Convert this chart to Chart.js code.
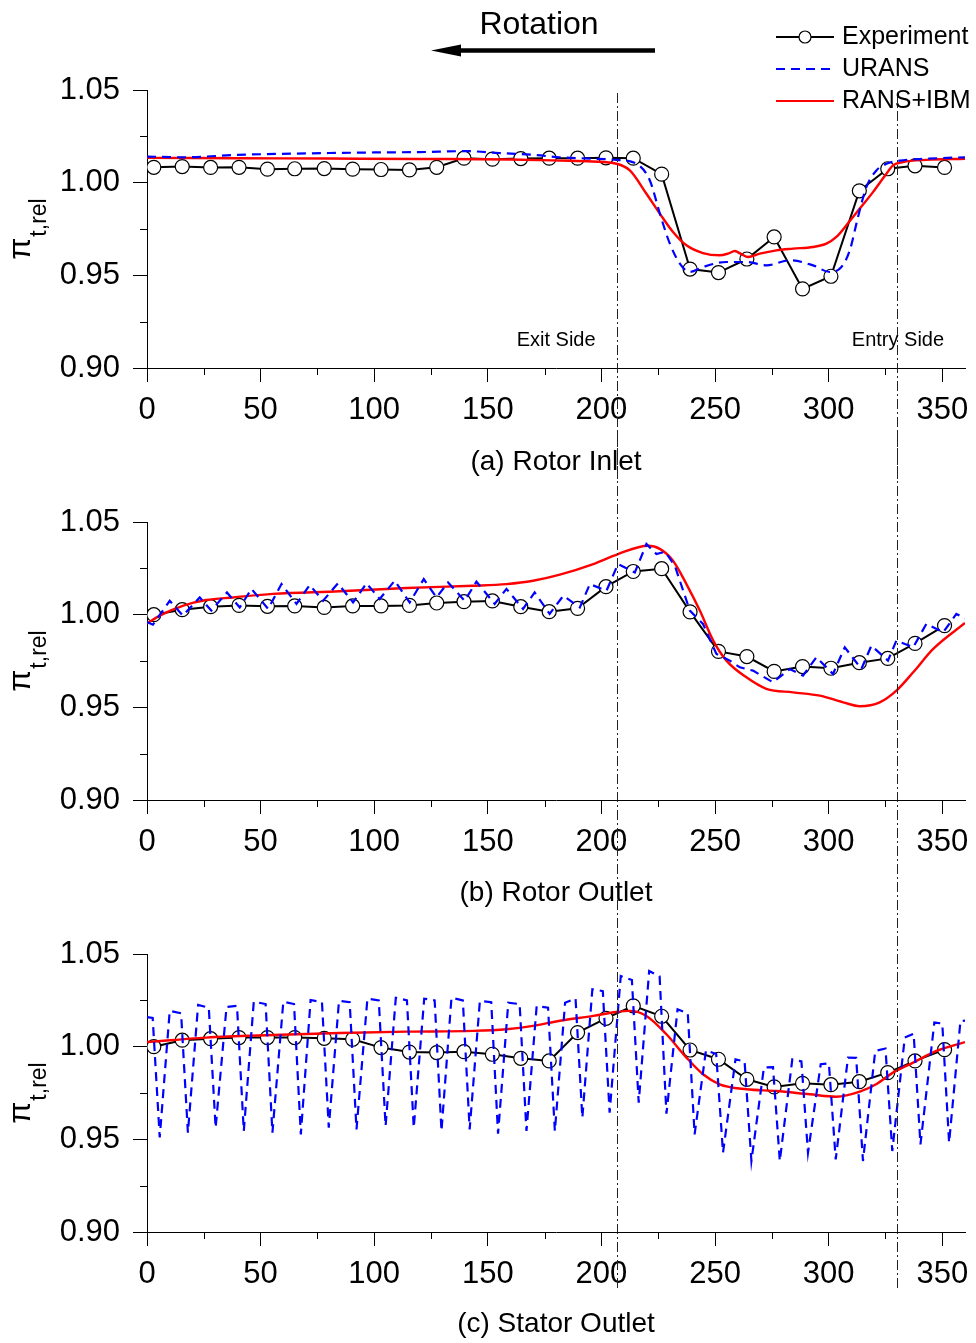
<!DOCTYPE html>
<html><head><meta charset="utf-8">
<script src="https://cdn.jsdelivr.net/npm/chart.js@4.4.1/dist/chart.umd.min.js"></script>
<style>
html,body{margin:0;padding:0;background:#fff;}
#wrap{position:relative;width:976px;height:1343px;overflow:hidden;background:#fff;}
canvas{position:absolute;left:0;}
</style></head><body>
<div id="wrap">
<canvas id="ca" width="976" height="479" style="top:0px"></canvas>
<canvas id="cb" width="976" height="478" style="top:432px"></canvas>
<canvas id="cc" width="976" height="477" style="top:864px"></canvas>
</div>
<script>
// ---------- data ----------
const xTicks = [0,50,100,150,200,250,300,350];
const xMinorTicks = [25,75,125,175,225,275,325];
const yTicks = [0.90,0.95,1.00,1.05];
const yMinorTicks = [0.925,0.975,1.025];
const markerAngles = [207, 330];
const panelTitles = ['(a) Rotor Inlet','(b) Rotor Outlet','(c) Stator Outlet'];
const seriesNames = ['Experiment','URANS','RANS+IBM'];
const sideLabels = ['Exit Side','Entry Side'];
const sideLabelX = [162.7, 310.2];
const sideLabelY = 0.915;

const expAngle = [3,15.5,28,40.5,53,65,78,90.5,103,115.5,127.5,139.5,152,164.5,177,189.5,202,214,226.5,239,251.5,264,276,288.5,301,313.5,326,338,351];

// (a) Rotor Inlet
const expA = [1.0083,1.0087,1.0082,1.0083,1.0073,1.0075,1.0076,1.0073,1.0071,1.0069,1.0083,1.0132,1.0127,1.0130,1.0132,1.0132,1.0134,1.0132,1.0046,0.9534,0.9515,0.9588,0.9707,0.9427,0.9495,0.9956,1.0075,1.0091,1.0082];
const uransAx = [0,16,40,70,100,120,140.6,155,170,181.7,195,206.6,215.4,221.3,225.7,230.1,234.5,238.9,244.7,255,263.8,272.6,282.9,293.1,300.5,305.6,309.3,312.9,316.6,321,325.4,331.3,343,360];
const uransAy = [1.0141,1.0137,1.0150,1.0158,1.0163,1.0165,1.0170,1.0160,1.0150,1.0137,1.0130,1.0123,1.0102,1.0012,0.9833,0.9671,0.9563,0.9518,0.9545,0.9572,0.9572,0.9554,0.9581,0.9554,0.9518,0.9545,0.9635,0.9814,0.9976,1.0066,1.0102,1.0119,1.0129,1.0137];
const ransAx = [0,40,80,120,160,181.7,196,206.6,212.5,219.8,225.7,231.5,237.4,244.7,252,255.7,258.7,261.6,264.5,269.7,277,284.3,293.1,299,303.4,307.8,313.7,319.5,325.4,328.3,332.7,343,360];
const ransAy = [1.0134,1.0132,1.0130,1.0128,1.0125,1.0119,1.0114,1.0102,1.0066,0.9940,0.9833,0.9734,0.9662,0.9620,0.9608,0.9617,0.9631,0.9614,0.9599,0.9617,0.9635,0.9644,0.9653,0.9671,0.9707,0.9770,0.9860,0.9949,1.0048,1.0093,1.0111,1.0123,1.0129];

// (b) Rotor Outlet
const expB = [1.0000,1.0027,1.0043,1.0050,1.0045,1.0047,1.0039,1.0047,1.0047,1.0050,1.0063,1.0070,1.0074,1.0043,1.0016,1.0034,1.0151,1.0233,1.0248,1.0015,0.9802,0.9774,0.9694,0.9720,0.9711,0.9741,0.9764,0.9845,0.9941];
const uransBx = [0,2.6,10,15.8,23.2,28.3,35.2,40.8,46,53.3,59.2,65.8,71.6,77.5,84,90.7,96.6,102.4,109,115.6,121.8,127.4,132.5,139.8,145,153,158.2,165.5,170.6,177.2,183.2,190.5,194.9,202.2,207.3,214.7,219.8,224.2,228,232.3,238.9,244.7,250.6,256.5,260.9,266.7,275.5,282.9,288.7,294.6,301.9,307.1,314.4,318.8,326.1,329.8,337.2,343,350.4,356.2,360];
const uransBy = [0.9960,0.9946,1.0075,0.9995,1.0093,1.0022,1.0120,1.0039,1.0139,1.0031,1.0165,1.0058,1.0160,1.0075,1.0169,1.0066,1.0169,1.0085,1.0183,1.0066,1.0192,1.0093,1.0174,1.0075,1.0178,1.0058,1.0139,1.0031,1.0120,1.0004,1.0102,1.0039,1.0165,1.0129,1.0273,1.0228,1.0381,1.0327,1.0340,1.0264,1.0022,0.9950,0.9788,0.9752,0.9716,0.9698,0.9635,0.9707,0.9671,0.9770,0.9680,0.9824,0.9707,0.9833,0.9752,0.9860,0.9824,0.9950,0.9905,1.0004,0.9980];
const ransBx = [0,5.6,16,26,37.9,55.4,84.8,114.2,143.5,158.2,169.9,181.7,196.4,207.3,220.5,225.7,231.5,237.4,243.3,249.2,255,263.8,272.6,284.3,296.1,306.4,313.7,322.5,329.8,337.2,346,360];
const ransBy = [0.9953,0.9995,1.0049,1.0079,1.0093,1.0112,1.0126,1.0144,1.0156,1.0165,1.0183,1.0216,1.0273,1.0327,1.0372,1.0355,1.0291,1.0165,1.0022,0.9860,0.9752,0.9662,0.9600,0.9581,0.9563,0.9527,0.9506,0.9527,0.9590,0.9689,0.9815,0.9955];

// (c) Stator Outlet
const expC = [1.0000,1.0035,1.0043,1.0049,1.0049,1.0049,1.0045,1.0040,0.9995,0.9971,0.9968,0.9973,0.9959,0.9937,0.9923,1.0076,1.0153,1.0220,1.0164,0.9982,0.9932,0.9824,0.9783,0.9802,0.9795,0.9811,0.9860,0.9923,0.9984];
const uransCx = [0,2.5,5.6,10,15,18,22.5,27.2,30.2,35,39.6,42.6,47,52.2,55.2,60,64.7,67.7,72,77,80,84.5,89.2,92.2,97,102,105,109.5,114.4,117.4,122,126.6,129.6,134,139,142,146.5,151.5,154.5,159,164,167,171.5,176.5,179.5,184,188.6,191.6,196,200.6,203.6,208.5,213.4,216.4,221,225.6,228.6,233.5,238,241,246,250.5,253.5,259,263,266,271.5,275.5,278.5,284,288,290.9,296.5,300.1,303.1,308.5,312.1,315.1,320.5,325,328,333.5,337.4,340.4,346.5,350,353,358,360];
const uransCy = [1.0160,1.0155,0.9510,1.0193,1.0180,0.9536,1.0225,1.0210,0.9563,1.0214,1.0220,0.9545,1.0243,1.0230,0.9536,1.0243,1.0230,0.9527,1.0252,1.0240,0.9563,1.0247,1.0240,0.9554,1.0259,1.0250,0.9572,1.0264,1.0250,0.9563,1.0259,1.0250,0.9545,1.0264,1.0250,0.9554,1.0247,1.0240,0.9530,1.0237,1.0230,0.9545,1.0220,1.0210,0.9545,1.0237,1.0260,0.9617,1.0310,1.0300,0.9644,1.0381,1.0360,0.9698,1.0408,1.0380,0.9638,1.0202,1.0180,0.9527,0.9980,0.9960,0.9428,0.9932,0.9920,0.9383,0.9887,0.9890,0.9383,0.9932,0.9920,0.9428,0.9905,0.9910,0.9392,0.9941,0.9940,0.9383,0.9977,0.9990,0.9437,1.0049,1.0070,0.9473,1.0130,1.0125,0.9482,1.0139,1.0140];
const ransCx = [0,26.1,55.5,84.8,114.2,143.5,158.2,169.9,181.7,196.4,206.6,212.5,219.8,228.6,237.4,244.7,252,263.8,277,291.7,303.4,313.7,320.9,328.3,337.2,347.4,360];
const ransCy = [1.0025,1.0049,1.0063,1.0074,1.0081,1.0085,1.0094,1.0112,1.0140,1.0166,1.0187,1.0193,1.0166,1.0067,0.9941,0.9851,0.9797,0.9770,0.9761,0.9743,0.9730,0.9757,0.9797,0.9860,0.9914,0.9977,1.0025];

// ---------- rendering ----------
const FONT = "'Liberation Sans', Arial, Helvetica, sans-serif";
const pts = (xs, ys) => xs.map((x, i) => ({x: x, y: ys[i]}));

function decorPlugin(p) {
  return {
    id: 'decor' + p.idx,
    afterDraw(chart) {
      const ctx = chart.ctx, xs = chart.scales.x, ys = chart.scales.y, a = chart.chartArea;
      ctx.save();
      // minor ticks
      ctx.strokeStyle = '#000'; ctx.lineWidth = 1;
      ctx.beginPath();
      xMinorTicks.forEach(v => { const px = Math.round(xs.getPixelForValue(v)) + 0.5; ctx.moveTo(px, a.bottom); ctx.lineTo(px, a.bottom + 7); });
      yMinorTicks.forEach(v => { const py = Math.round(ys.getPixelForValue(v)) + 0.5; ctx.moveTo(a.left, py); ctx.lineTo(a.left - 7, py); });
      ctx.stroke();
      // dash-dot marker lines
      ctx.strokeStyle = '#222'; ctx.lineWidth = 1; ctx.setLineDash([10,3,2,3]);
      ctx.beginPath();
      markerAngles.forEach(v => { const px = Math.round(xs.getPixelForValue(v)) + 0.5; ctx.moveTo(px, p.lineTop); ctx.lineTo(px, p.lineBottom); });
      ctx.stroke();
      ctx.setLineDash([]);
      // y-axis title pi_{t,rel}
      const cy = (a.top + a.bottom) / 2;
      ctx.fillStyle = '#000';
      ctx.font = '32px ' + FONT;
      const wPi = ctx.measureText('\u03c0').width;
      ctx.font = '23px ' + FONT;
      const wSub = ctx.measureText('t,rel').width;
      const total = wPi + 1 + wSub;
      ctx.translate(30, cy + total / 2);
      ctx.rotate(-Math.PI / 2);
      ctx.textBaseline = 'alphabetic'; ctx.textAlign = 'left';
      ctx.font = '32px ' + FONT;
      ctx.fillText('\u03c0', 0, 0);
      ctx.font = '23px ' + FONT;
      ctx.fillText('t,rel', wPi + 1, 16);
      ctx.restore();

      if (p.idx === 0) {
        ctx.save();
        // side labels
        ctx.fillStyle = '#000'; ctx.font = '20px ' + FONT; ctx.textBaseline = 'middle'; ctx.textAlign = 'left';
        sideLabels.forEach((t, i) => ctx.fillText(t, xs.getPixelForValue(sideLabelX[i]), ys.getPixelForValue(sideLabelY)));
        // rotation label + arrow
        ctx.font = '32px ' + FONT; ctx.textAlign = 'center';
        ctx.fillText('Rotation', 539, 25);
        ctx.strokeStyle = '#000'; ctx.lineWidth = 4.5;
        ctx.beginPath(); ctx.moveTo(655, 50.5); ctx.lineTo(455, 50.5); ctx.stroke();
        ctx.beginPath(); ctx.moveTo(431, 50.5); ctx.lineTo(461, 44.5); ctx.lineTo(461, 56.5); ctx.closePath(); ctx.fill();
        // legend
        const rows = [37, 69, 101];
        ctx.lineWidth = 2;
        ctx.strokeStyle = '#000';
        ctx.beginPath(); ctx.moveTo(776, rows[0]); ctx.lineTo(834, rows[0]); ctx.stroke();
        ctx.fillStyle = '#fff'; ctx.lineWidth = 1.2;
        ctx.beginPath(); ctx.arc(805, rows[0], 6, 0, Math.PI * 2); ctx.fill(); ctx.stroke();
        ctx.strokeStyle = '#0000ff'; ctx.lineWidth = 2; ctx.setLineDash([9,6]);
        ctx.beginPath(); ctx.moveTo(776, rows[1]); ctx.lineTo(834, rows[1]); ctx.stroke();
        ctx.setLineDash([]);
        ctx.strokeStyle = '#ff0000';
        ctx.beginPath(); ctx.moveTo(776, rows[2]); ctx.lineTo(834, rows[2]); ctx.stroke();
        ctx.fillStyle = '#000'; ctx.font = '25px ' + FONT; ctx.textAlign = 'left'; ctx.textBaseline = 'middle';
        seriesNames.forEach((t, i) => ctx.fillText(t, 842, rows[i]));
        ctx.restore();
      }
    }
  };
}

function buildChart(p) {
  const H = p.height;
  return new Chart(document.getElementById(p.id), {
    type: 'line',
    data: { datasets: [
      { label: seriesNames[1], data: pts(p.bx, p.by), borderColor: '#0000ff', borderWidth: 2.2, borderDash: [9,6],
        pointRadius: 0, fill: false, tension: p.blueSmooth ? 0.4 : 0, cubicInterpolationMode: p.blueSmooth ? 'monotone' : 'default' },
      { label: seriesNames[2], data: pts(p.rx, p.ry), borderColor: '#ff0000', borderWidth: 2.4,
        pointRadius: 0, fill: false, tension: 0.4, cubicInterpolationMode: 'monotone' },
      { label: seriesNames[0], data: pts(expAngle, p.exp), borderColor: '#000', borderWidth: 2, tension: 0,
        pointRadius: 7, pointBackgroundColor: '#fff', pointBorderColor: '#000', pointBorderWidth: 1.2, fill: false }
    ]},
    options: {
      responsive: false, animation: false, events: [],
      layout: { padding: { top: 90, right: 11, bottom: 0, left: 0 } },
      plugins: { legend: { display: false }, tooltip: { enabled: false } },
      scales: {
        x: {
          type: 'linear', min: 0, max: 360,
          afterBuildTicks: s => { s.ticks = xTicks.map(v => ({ value: v })); },
          afterFit: s => { s.height = H - 368; s.paddingLeft = 0; s.paddingRight = 0; },
          ticks: { color: '#000', font: { family: FONT, size: 31 }, padding: 10, maxRotation: 0, autoSkip: false, callback: v => String(v) },
          grid: { drawOnChartArea: false, drawTicks: true, tickLength: 14, color: '#000', lineWidth: 1 },
          border: { display: true, color: '#000', width: 1 },
          title: { display: true, text: panelTitles[p.idx], color: '#000', font: { family: FONT, size: 28 }, padding: { top: 0, bottom: 0 } }
        },
        y: {
          type: 'linear', min: 0.9, max: 1.05,
          afterBuildTicks: s => { s.ticks = yTicks.map(v => ({ value: v })); },
          afterFit: s => { s.width = 147; s.paddingTop = 0; s.paddingBottom = 0; },
          ticks: { color: '#000', font: { family: FONT, size: 31 }, padding: 13, autoSkip: false, callback: v => Number(v).toFixed(2) },
          grid: { drawOnChartArea: false, drawTicks: true, tickLength: 14, color: '#000', lineWidth: 1 },
          border: { display: true, color: '#000', width: 1 }
        }
      }
    },
    plugins: [decorPlugin(p)]
  });
}

buildChart({ id: 'ca', idx: 0, height: 479, exp: expA, bx: uransAx, by: uransAy, blueSmooth: true, rx: ransAx, ry: ransAy, lineTop: 93, lineBottom: 479 });
buildChart({ id: 'cb', idx: 1, height: 478, exp: expB, bx: uransBx, by: uransBy, blueSmooth: false, rx: ransBx, ry: ransBy, lineTop: 0, lineBottom: 478 });
buildChart({ id: 'cc', idx: 2, height: 477, exp: expC, bx: uransCx, by: uransCy, blueSmooth: false, rx: ransCx, ry: ransCy, lineTop: 0, lineBottom: 426 });
</script>
</body></html>
